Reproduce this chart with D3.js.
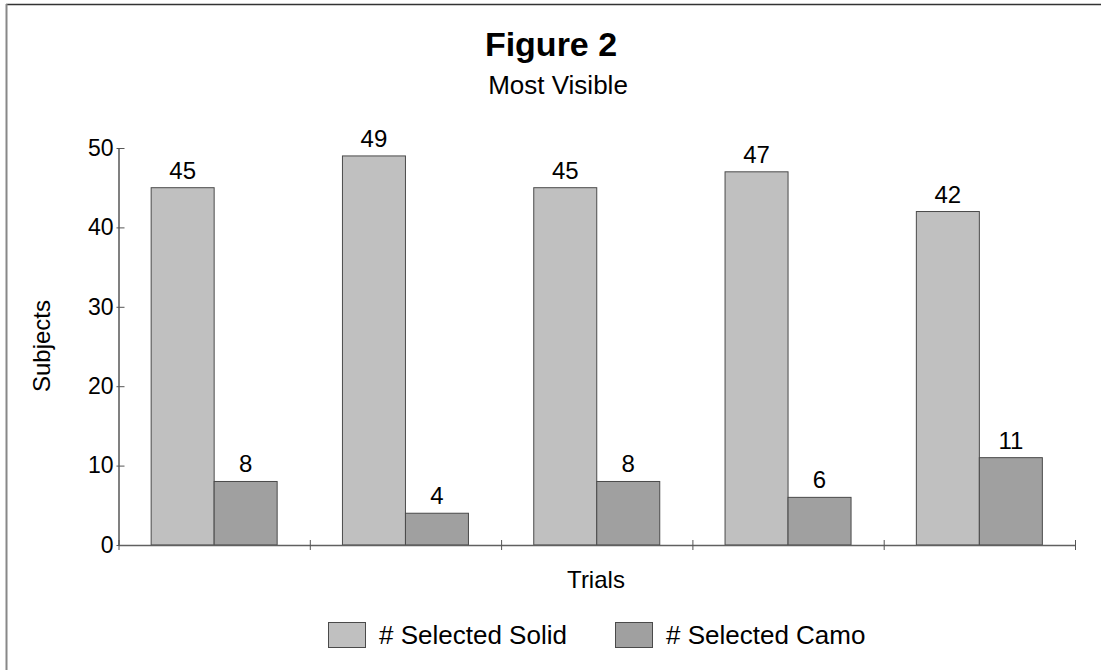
<!DOCTYPE html>
<html>
<head>
<meta charset="utf-8">
<script src="https://cdn.jsdelivr.net/npm/d3@7/dist/d3.min.js"></script>
<style>
  html, body { margin: 0; padding: 0; background: #fff; }
  svg { display: block; font-family: Arial, "Liberation Sans", sans-serif; }
</style>
</head>
<body>
<svg id="chart" width="1101" height="670"></svg>
<script>
// Trials and counts of subjects per selection
const trials = ["1", "2", "3", "4", "5"];
const selectedSolid = [45, 49, 45, 47, 42];
const selectedCamo = [8, 4, 8, 6, 11];
const seriesNames = ["# Selected Solid", "# Selected Camo"];
const seriesColors = ["#c0c0c0", "#a0a0a0"];
const yTicks = [0, 10, 20, 30, 40, 50];

const svg = d3.select("#chart");
const W = 1101, H = 670;

// frame lines along top and left
svg.append("line").attr("x1", 6).attr("x2", W).attr("y1", 4.5).attr("y2", 4.5)
  .attr("stroke", "#333").attr("stroke-width", 1.5);
svg.append("line").attr("x1", 6.5).attr("x2", 6.5).attr("y1", 4).attr("y2", H)
  .attr("stroke", "#888").attr("stroke-width", 2);

const plot = { left: 118.5, right: 1075, top: 148, bottom: 545 };

const x = d3.scaleBand().domain(trials).range([plot.left, plot.right]).paddingInner(0).paddingOuter(0);
const xEdges = d3.scaleLinear().domain([0, trials.length]).range([plot.left, plot.right]);
const y = d3.scaleLinear().domain([0, 50]).range([plot.bottom, plot.top]);

// title
svg.append("text").attr("x", 551).attr("y", 56).attr("text-anchor", "middle")
  .attr("font-size", 34).attr("font-weight", "bold").attr("fill", "#000").text("Figure 2");
svg.append("text").attr("x", 558).attr("y", 94).attr("text-anchor", "middle")
  .attr("font-size", 26).attr("fill", "#000").text("Most Visible");

// bars
const barW = 63;
const series = [selectedSolid, selectedCamo];
const g = svg.append("g");
trials.forEach((t, i) => {
  const cx = x(t) + x.bandwidth() / 2;
  series.forEach((vals, s) => {
    const bx = cx - barW + s * barW;
    g.append("rect")
      .attr("x", bx).attr("y", y(vals[i]))
      .attr("width", barW).attr("height", y(0) - y(vals[i]))
      .attr("fill", seriesColors[s]).attr("stroke", "#4a4a4a").attr("stroke-width", 1);
    g.append("text")
      .attr("x", bx + barW / 2).attr("y", y(vals[i]) - 9)
      .attr("text-anchor", "middle").attr("font-size", 24).attr("fill", "#000")
      .text(vals[i]);
  });
});

// y axis
const yAxis = svg.append("g").attr("transform", `translate(${plot.left},0)`)
  .call(d3.axisLeft(y).tickValues(yTicks).tickSize(0).tickPadding(5));
yAxis.select(".domain").attr("stroke", "#808080").attr("stroke-width", 2);
yAxis.selectAll(".tick line").attr("x1", -2).attr("x2", 6).attr("stroke", "#555").attr("stroke-width", 1);
yAxis.selectAll(".tick text").attr("font-size", 23).attr("fill", "#000").attr("font-family", "Arial, 'Liberation Sans', sans-serif");

// x axis with ticks at trial boundaries
const xAxis = svg.append("g").attr("transform", `translate(0,${plot.bottom})`)
  .call(d3.axisBottom(xEdges).tickValues(d3.range(trials.length + 1)).tickFormat("").tickSize(0));
xAxis.select(".domain").attr("stroke", "#606060").attr("stroke-width", 1.5);
xAxis.selectAll(".tick line").attr("y1", -5).attr("y2", 5).attr("stroke", "#555").attr("stroke-width", 1);

// axis titles
svg.append("text").attr("transform", "translate(50,346) rotate(-90)")
  .attr("text-anchor", "middle").attr("font-size", 24).attr("fill", "#000").text("Subjects");
svg.append("text").attr("x", 596).attr("y", 588).attr("text-anchor", "middle")
  .attr("font-size", 24).attr("fill", "#000").text("Trials");

// legend
const legendX = [328, 615];
seriesNames.forEach((name, s) => {
  const lg = svg.append("g").attr("transform", `translate(${legendX[s]},622)`);
  lg.append("rect").attr("x", 0.5).attr("y", 0.5).attr("width", 37).attr("height", 25)
    .attr("fill", seriesColors[s]).attr("stroke", "#4a4a4a").attr("stroke-width", 1);
  lg.append("text").attr("x", 51).attr("y", 22).attr("font-size", 26).attr("fill", "#000").text(name);
});
</script>
</body>
</html>
